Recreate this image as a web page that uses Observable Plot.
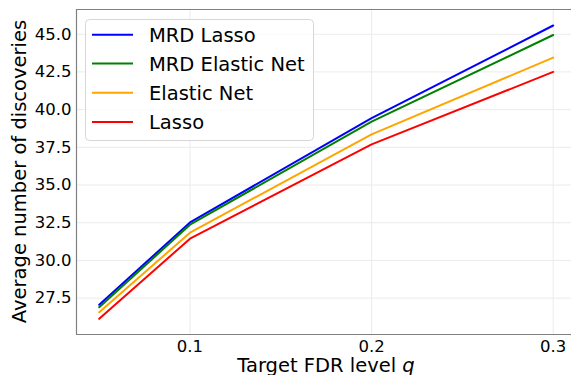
<!DOCTYPE html>
<html>
<head>
<meta charset="utf-8">
<script src="https://cdn.jsdelivr.net/npm/d3@7"></script>
<script src="https://cdn.jsdelivr.net/npm/@observablehq/plot@0.6"></script>
<style>
  html, body { margin: 0; padding: 0; background: #fff; }
  #chart { position: relative; width: 571px; height: 375px; }
  svg { font-family: "DejaVu Sans", sans-serif; }
</style>
</head>
<body>
<div id="chart"></div>
<script>
// ---- data ----
const fdrLevels = [0.05, 0.1, 0.2, 0.3];
const mrdLasso = [27.06, 32.52, 39.44, 45.58];
const mrdElasticNet = [26.90, 32.37, 39.20, 44.95];
const elasticNet = [26.57, 31.84, 38.36, 43.45];
const lasso = [26.13, 31.44, 37.70, 42.50];
const seriesNames = ["MRD Lasso", "MRD Elastic Net", "Elastic Net", "Lasso"];
const seriesColors = ["#0000ff", "#008000", "#ffa500", "#ff0000"];
const xTicks = [0.1, 0.2, 0.3];
const yTicks = [27.5, 30.0, 32.5, 35.0, 37.5, 40.0, 42.5, 45.0];
const xLabel = "Target FDR level ";
const xLabelItalic = "q";
const yLabel = "Average number of discoveries";

const seriesValues = [mrdLasso, mrdElasticNet, elasticNet, lasso];
const rows = [];
seriesNames.forEach((name, i) => {
  fdrLevels.forEach((f, j) => rows.push({method: name, fdr: f, value: seriesValues[i][j]}));
});

const xDomain = [0.0375, 0.31008];
const yDomain = [25.09, 46.64];
const spine = "#808080";
const grid = "#ebebeb";

const plot = Plot.plot({
  width: 571,
  height: 375,
  marginLeft: 76,
  marginRight: 0,
  marginTop: 9,
  marginBottom: 41,
  style: {fontFamily: "DejaVu Sans", fontSize: "16.5px", color: "#000", background: "#fff"},
  x: {domain: xDomain},
  y: {domain: yDomain},
  color: {domain: seriesNames, range: seriesColors},
  marks: [
    Plot.gridX(xTicks, {stroke: grid, strokeOpacity: 1, strokeWidth: 1}),
    Plot.gridY(yTicks, {stroke: grid, strokeOpacity: 1, strokeWidth: 1}),
    Plot.line(rows, {x: "fdr", y: "value", z: "method", stroke: "method", strokeWidth: 2}),
    Plot.ruleX([xDomain[0]], {stroke: spine, strokeWidth: 1.2}),
    Plot.ruleY([yDomain[0], yDomain[1]], {stroke: spine, strokeWidth: 1.2}),
    Plot.axisX(xTicks, {tickSize: 0, tickPadding: 6, tickFormat: d => d.toFixed(1), label: null, fontSize: 16.5}),
    Plot.axisY(yTicks, {tickSize: 0, tickPadding: 5, tickFormat: d => d.toFixed(1), label: null, fontSize: 16.5})
  ]
});

document.getElementById("chart").appendChild(plot);

const svg = d3.select(plot);
const xs = plot.scale("x"), ys = plot.scale("y");
const xMid = (xs.range[0] + (xs.range[0] + 500)) / 2;
const yMid = (ys.range[0] + ys.range[1]) / 2;

// x label
const xl = svg.append("text")
  .attr("x", xMid).attr("y", 372)
  .attr("text-anchor", "middle")
  .attr("font-family", "DejaVu Sans")
  .attr("font-size", 19.5)
  .attr("fill", "#000");
xl.append("tspan").text(xLabel);
xl.append("tspan").attr("font-style", "italic").text(xLabelItalic);

// y label
svg.append("text")
  .attr("transform", `translate(26,${yMid}) rotate(-90)`)
  .attr("text-anchor", "middle")
  .attr("font-family", "DejaVu Sans")
  .attr("font-size", 19.5)
  .attr("fill", "#000")
  .text(yLabel);

// legend
const lg = svg.append("g").attr("text-anchor", "start");
lg.append("rect")
  .attr("x", 85.5).attr("y", 19.5).attr("width", 228).attr("height", 121)
  .attr("rx", 4).attr("ry", 4)
  .attr("fill", "#fff").attr("fill-opacity", 0.8)
  .attr("stroke", "#d6d6d6").attr("stroke-width", 1);
const rowY = [34.7, 63.5, 92.7, 122];
seriesNames.forEach((name, i) => {
  lg.append("line")
    .attr("x1", 92).attr("x2", 133)
    .attr("y1", rowY[i]).attr("y2", rowY[i])
    .attr("stroke", seriesColors[i]).attr("stroke-width", 2);
  lg.append("text")
    .attr("x", 149).attr("y", rowY[i]).attr("dy", "0.36em")
    .attr("text-anchor", "start")
    .attr("font-family", "DejaVu Sans").attr("font-size", 19.5)
    .attr("fill", "#000")
    .text(name);
});
</script>
</body>
</html>
